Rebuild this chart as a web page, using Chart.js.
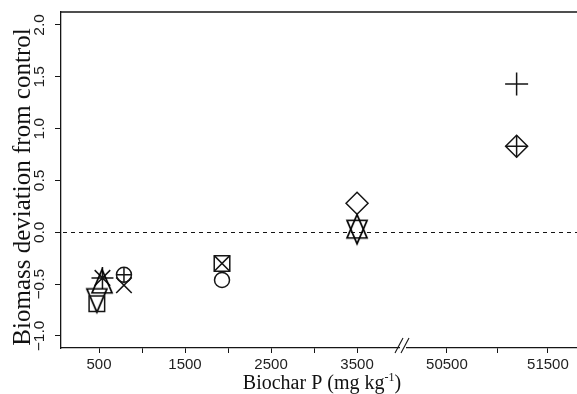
<!DOCTYPE html>
<html><head><meta charset="utf-8">
<script src="https://cdn.jsdelivr.net/npm/chart.js@4/dist/chart.umd.min.js"></script>
<style>html,body{margin:0;padding:0;background:#fff;}canvas{display:block;}</style>
</head><body>
<canvas id="c" width="577" height="394"></canvas>
<script>
// ---- data ----
const yTicks = [-1.0, -0.5, 0.0, 0.5, 1.0, 1.5, 2.0];
const yTickLabels = ['\u22121.0', '\u22120.5', '0.0', '0.5', '1.0', '1.5', '2.0'];
const xTicksLeft = [500, 1000, 1500, 2000, 2500, 3000, 3500];
const xLabelsLeft = [500, 1500, 2500, 3500];
const xTicksRight = [50500, 51000, 51500];
const xLabelsRight = [50500, 51500];

const squareX = [475],  squareY = [-0.69];
const triDownX = [475, 3500], triDownY = [-0.62, 0.04];
const triUpX = [535, 3500], triUpY = [-0.51, 0.02];
const asteriskX = [540], asteriskY = [-0.44];
const circlePlusX = [790], circlePlusY = [-0.41];
const crossX = [790], crossY = [-0.51];
const circleX = [1930], circleY = [-0.46];
const squareCrossX = [1930], squareCrossY = [-0.30];
const diamondX = [3500], diamondY = [0.28];
const diamondPlusX = [51190], diamondPlusY = [0.83];
const plusX = [51190], plusY = [1.43];

const xTitle = 'Biochar P (mg kg';
const xTitleSup = '-1';
const yTitle = 'Biomass deviation from control';

// ---- styling ----
const INK = '#151515';
const LW = 1.5;

function triCanvas(xc, down) {
  const r = 1.555 * xc, yc = 0.777 * xc;
  const w = Math.ceil(2 * xc) + 6, h = Math.ceil(2 * r) + 6;
  const c = document.createElement('canvas'); c.width = w; c.height = h;
  const g = c.getContext('2d'); const cx = w / 2, cy = h / 2;
  g.strokeStyle = '#000'; g.lineWidth = 1.7;
  g.beginPath();
  if (!down) { g.moveTo(cx, cy - r); g.lineTo(cx + xc, cy + yc); g.lineTo(cx - xc, cy + yc); }
  else { g.moveTo(cx, cy + r); g.lineTo(cx + xc, cy - yc); g.lineTo(cx - xc, cy - yc); }
  g.closePath(); g.stroke();
  return c;
}
const TRI_UP = triCanvas(10, false);
const TRI_DOWN = triCanvas(10, true);

function ds(label, xs, ys, style, r, axis) {
  return {
    label, data: xs.map((x, i) => ({x, y: ys[i]})),
    xAxisID: axis || 'x', pointStyle: style, pointRadius: r, pointHoverRadius: r,
    borderColor: INK, backgroundColor: 'rgba(0,0,0,0)', borderWidth: LW, showLine: false
  };
}

const datasets = [
  ds('square', squareX, squareY, 'rect', 11),
  ds('triDown', triDownX, triDownY, TRI_DOWN, 10),
  ds('triUp', triUpX, triUpY, TRI_UP, 10),
  ds('asterisk', asteriskX, asteriskY, 'star', 11),
  ds('circlePlus-c', circlePlusX, circlePlusY, 'circle', 7.5),
  ds('circlePlus-p', circlePlusX, circlePlusY, 'cross', 7.5),
  ds('cross', crossX, crossY, 'crossRot', 11),
  ds('circle', circleX, circleY, 'circle', 7.5),
  ds('squareCross-s', squareCrossX, squareCrossY, 'rect', 11),
  ds('squareCross-x', squareCrossX, squareCrossY, 'crossRot', 11),
  ds('diamond', diamondX, diamondY, 'rectRot', 11),
  ds('diamondPlus-d', diamondPlusX, diamondPlusY, 'rectRot', 11, 'x2'),
  ds('diamondPlus-p', diamondPlusX, diamondPlusY, 'cross', 11, 'x2'),
  ds('plus', plusX, plusY, 'cross', 11.5, 'x2')
];

const tickFont = {family: '"Liberation Sans", Arial, sans-serif', size: 15};

function xAxis(min, max, weight, ticks, labels) {
  return {
    type: 'linear', position: 'bottom', stack: 'xs', stackWeight: weight,
    min, max,
    afterBuildTicks: s => { s.ticks = ticks.map(v => ({value: v})); },
    afterFit: s => { s.height = 46; s.paddingLeft = 0; s.paddingRight = 0; },
    grid: {drawOnChartArea: false, drawTicks: true, tickLength: 5, color: INK, lineWidth: 1},
    border: {display: true, color: INK, width: 1.3},
    ticks: {
      autoSkip: false, maxRotation: 0, minRotation: 0, padding: 3,
      color: '#222', font: tickFont,
      callback: v => labels.includes(v) ? String(v) : ''
    }
  };
}

const decor = {
  id: 'decor',
  beforeDatasetsDraw(chart) {
    const {ctx, chartArea: a, scales: {y}} = chart;
    const y0 = Math.round(y.getPixelForValue(0)) + 0.5;
    ctx.save();
    ctx.strokeStyle = INK; ctx.lineWidth = 1; ctx.setLineDash([4, 4]);
    ctx.beginPath(); ctx.moveTo(a.left + 2, y0); ctx.lineTo(a.right, y0); ctx.stroke();
    ctx.restore();
  },
  afterDraw(chart) {
    const {ctx, chartArea: a, scales: {y, x2}} = chart;
    ctx.save();
    // top frame line
    ctx.strokeStyle = INK; ctx.lineWidth = 1.3;
    ctx.beginPath(); ctx.moveTo(a.left, a.top); ctx.lineTo(a.right, a.top); ctx.stroke();
    // y tick labels (rotated, reading upward)
    ctx.fillStyle = '#1a1a1a';
    ctx.font = '15.5px "Liberation Sans", Arial, sans-serif';
    ctx.textAlign = 'center'; ctx.textBaseline = 'middle';
    yTicks.forEach((v, i) => {
      const py = y.getPixelForValue(v);
      ctx.save(); ctx.translate(40, py); ctx.rotate(-Math.PI / 2);
      ctx.fillText(yTickLabels[i], 0, 0); ctx.restore();
    });
    // y title
    ctx.fillStyle = '#111';
    ctx.font = '25px "Liberation Serif", "Times New Roman", serif';
    ctx.textBaseline = 'alphabetic';
    ctx.save(); ctx.translate(30, 187); ctx.rotate(-Math.PI / 2);
    ctx.fillText(yTitle, 0, 0); ctx.restore();
    // x title with superscript
    const mainF = '20px "Liberation Serif", "Times New Roman", serif';
    const supF = '12px "Liberation Serif", "Times New Roman", serif';
    ctx.font = mainF; const w1 = ctx.measureText(xTitle).width; const w3 = ctx.measureText(')').width;
    ctx.font = supF; const w2 = ctx.measureText(xTitleSup).width;
    let sx = 322 - (w1 + w2 + w3) / 2; const by = 389;
    ctx.textAlign = 'left';
    ctx.font = mainF; ctx.fillText(xTitle, sx, by); sx += w1;
    ctx.font = supF; ctx.fillText(xTitleSup, sx, by - 8); sx += w2;
    ctx.font = mainF; ctx.fillText(')', sx, by);
    // axis break marks
    const bx = x2.left + 2, ay = a.bottom;
    ctx.fillStyle = '#fff'; ctx.fillRect(bx - 3, ay - 2, 6, 4);
    ctx.strokeStyle = INK; ctx.lineWidth = 1.1;
    [-3, 3].forEach(o => {
      ctx.beginPath(); ctx.moveTo(bx + o - 5, ay + 5); ctx.lineTo(bx + o + 3, ay - 10); ctx.stroke();
    });
    ctx.restore();
  }
};

new Chart(document.getElementById('c'), {
  type: 'scatter',
  data: {datasets},
  options: {
    responsive: false, animation: false, devicePixelRatio: 1,
    layout: {autoPadding: false, padding: {top: 12, left: 0, right: 0, bottom: 0}},
    plugins: {legend: {display: false}, tooltip: {enabled: false}},
    scales: {
      x: xAxis(58, 4011, 340, xTicksLeft, xLabelsLeft),
      x2: xAxis(50045, 51788, 176, xTicksRight, xLabelsRight),
      y: {
        type: 'linear', position: 'left', min: -1.116, max: 2.125,
        afterBuildTicks: s => { s.ticks = yTicks.map(v => ({value: v})); },
        afterFit: s => { s.width = 61; s.paddingTop = 0; s.paddingBottom = 0; },
        grid: {drawOnChartArea: false, drawTicks: true, tickLength: 6, color: INK, lineWidth: 1},
        border: {display: true, color: INK, width: 1.3},
        ticks: {display: false}
      }
    }
  },
  plugins: [decor]
});
</script>
</body></html>
